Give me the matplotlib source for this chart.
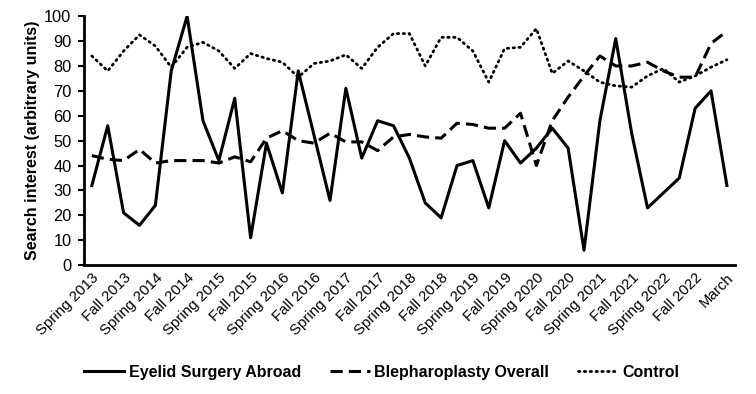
import matplotlib
matplotlib.use("Agg")
import matplotlib.pyplot as plt
import numpy as np

plt.rcParams['font.family'] = ['Liberation Sans', 'DejaVu Sans']

tick_labels = ["Spring 2013", "Fall 2013", "Spring 2014", "Fall 2014", "Spring 2015",
               "Fall 2015", "Spring 2016", "Fall 2016", "Spring 2017", "Fall 2017",
               "Spring 2018", "Fall 2018", "Spring 2019", "Fall 2019", "Spring 2020",
               "Fall 2020", "Spring 2021", "Fall 2021", "Spring 2022", "Fall 2022", "March"]

eyelid_abroad = [32, 56, 21, 16, 24, 78, 100, 58, 42, 67,
                 11, 49, 29, 78, 52, 26, 71, 43, 58, 56,
                 43, 25, 19, 40, 42, 23, 50, 41, 47, 55,
                 47, 6, 58, 91, 53, 23, 29, 35, 63, 70, 32]

bleph_overall = [44, 42.5, 42, 46.5, 41, 42, 42, 42, 41, 43.5,
                 41.5, 51, 54, 50, 49, 53, 49.5, 49.5, 46, 51.5,
                 52.5, 51.5, 51, 57, 56.5, 55, 55, 61, 40, 58,
                 67.5, 76, 84, 80, 80, 81.5, 78, 75.5, 75.5, 89, 94]

control = [84, 78, 86, 92.5, 88, 79.5, 87.5, 89.5, 86, 79,
           85, 83, 81.5, 75.5, 81, 82, 84.5, 79, 87.5, 93,
           93, 80, 91.5, 91.5, 86, 73.5, 87, 87.5, 95, 77,
           82, 78, 73.5, 72, 71.5, 76, 79, 73.5, 76, 79.5, 82.5]

x = np.arange(len(eyelid_abroad))

fig = plt.figure(figsize=(7.56, 3.94), dpi=100)
ax = fig.add_axes([0.111, 0.327, 0.861, 0.632])

ax.plot(x, eyelid_abroad, color='black', lw=2.2, ls='-', label='Eyelid Surgery Abroad')
ax.plot(x, bleph_overall, color='black', lw=2.2, ls=(0, (4, 2)), label='Blepharoplasty Overall')
ax.plot(x, control, color='black', lw=2.0, ls=(0, (0.5, 1.6)), dash_capstyle='round',
        label='Control')

ax.set_xlim(-0.5, len(x) - 0.5)
ax.set_ylim(0, 100)
ax.set_yticks(np.arange(0, 101, 10))
ax.set_xticks(x[::2])
ax.set_xticklabels(tick_labels, rotation=45, ha='right', rotation_mode='anchor', fontsize=10.8)
ax.tick_params(axis='x', length=0, pad=4)
ax.tick_params(axis='y', length=4, width=1.5, labelsize=11.8, pad=5)
for s in ['top', 'right']:
    ax.spines[s].set_visible(False)
for s in ['left', 'bottom']:
    ax.spines[s].set_linewidth(2)
ax.set_ylabel('Search interest (arbitrary units)', fontsize=11.5, fontweight='bold', labelpad=3)

leg = fig.legend(loc='center', bbox_to_anchor=(0.505, 0.055), ncol=3, frameon=False,
                 prop={'weight': 'bold', 'size': 11.5}, handlelength=2.5, columnspacing=1.8,
                 handletextpad=0.3)

fig.savefig('out.png', dpi=100)
